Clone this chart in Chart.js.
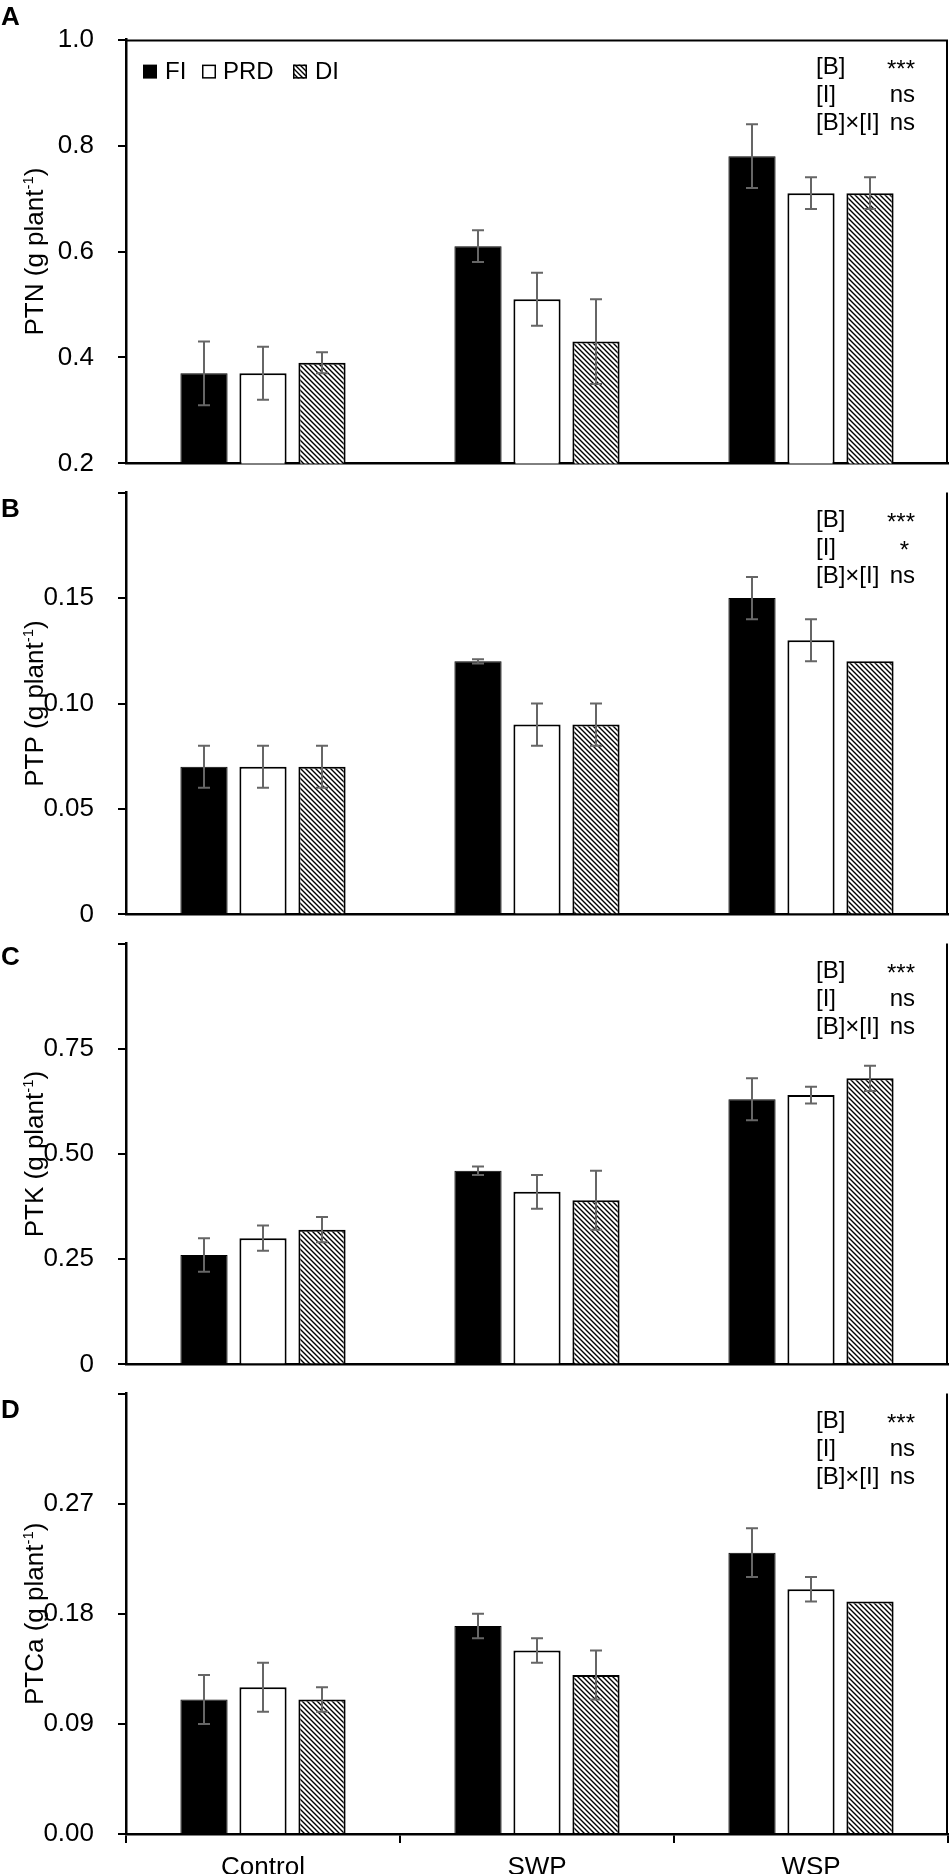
<!DOCTYPE html>
<html><head><meta charset="utf-8">
<script src="https://cdn.jsdelivr.net/npm/chart.js@4.4.1/dist/chart.umd.min.js"></script>
<style>
html,body{margin:0;padding:0;background:#fff;}
#wrap{position:relative;width:950px;height:1874px;overflow:hidden;background:#fff;}
#wrap canvas{position:absolute;left:0;display:block;}
</style></head><body>
<div id="wrap">
<canvas id="cA"></canvas><canvas id="cB"></canvas><canvas id="cC"></canvas><canvas id="cD"></canvas>
</div>
<script>
// ---------------- DATA ----------------
const categories = ['Control', 'SWP', 'WSP'];
const treatments = ['FI', 'PRD', 'DI'];
const statLabels = ['[B]', '[I]', '[B]×[I]'];

// A: PTN
const ptnFI  = [0.37, 0.61, 0.78];
const ptnPRD = [0.37, 0.51, 0.71];
const ptnDI  = [0.39, 0.43, 0.71];
const ptnErrFI  = [0.06, 0.03, 0.06];
const ptnErrPRD = [0.05, 0.05, 0.03];
const ptnErrDI  = [0.02, 0.08, 0.03];
const ptnTicks = [0.2, 0.4, 0.6, 0.8, 1.0];
const ptnTickLabels = ['0.2', '0.4', '0.6', '0.8', '1.0'];
const ptnStats = ['***', 'ns', 'ns'];

// B: PTP
const ptpFI  = [0.07, 0.12, 0.15];
const ptpPRD = [0.07, 0.09, 0.13];
const ptpDI  = [0.07, 0.09, 0.12];
const ptpErrFI  = [0.01, 0.001, 0.01];
const ptpErrPRD = [0.01, 0.01, 0.01];
const ptpErrDI  = [0.01, 0.01, 0];
const ptpTicks = [0, 0.05, 0.10, 0.15, 0.20];
const ptpTickLabels = ['0', '0.05', '0.10', '0.15', ''];
const ptpStats = ['***', '*', 'ns'];

// C: PTK
const ptkFI  = [0.26, 0.46, 0.63];
const ptkPRD = [0.30, 0.41, 0.64];
const ptkDI  = [0.32, 0.39, 0.68];
const ptkErrFI  = [0.04, 0.01, 0.05];
const ptkErrPRD = [0.03, 0.04, 0.02];
const ptkErrDI  = [0.03, 0.07, 0.03];
const ptkTicks = [0, 0.25, 0.50, 0.75, 1.00];
const ptkTickLabels = ['0', '0.25', '0.50', '0.75', ''];
const ptkStats = ['***', 'ns', 'ns'];

// D: PTCa
const ptcaFI  = [0.11, 0.17, 0.23];
const ptcaPRD = [0.12, 0.15, 0.20];
const ptcaDI  = [0.11, 0.13, 0.19];
const ptcaErrFI  = [0.02, 0.01, 0.02];
const ptcaErrPRD = [0.02, 0.01, 0.01];
const ptcaErrDI  = [0.01, 0.02, 0];
const ptcaTicks = [0, 0.09, 0.18, 0.27, 0.36];
const ptcaTickLabels = ['0.00', '0.09', '0.18', '0.27', ''];
const ptcaStats = ['***', 'ns', 'ns'];

// ---------------- STYLE / LAYOUT ----------------
const FONT = "'Liberation Sans', Arial, Helvetica, sans-serif";
Chart.defaults.font.family = FONT;
Chart.defaults.color = '#000';

function makeHatch() {
  const s = 5;
  const tile = document.createElement('canvas');
  tile.width = s; tile.height = s;
  const g = tile.getContext('2d');
  g.fillStyle = '#fff'; g.fillRect(0, 0, s, s);
  g.strokeStyle = '#000'; g.lineWidth = 1.4;
  g.beginPath();
  g.moveTo(0, 0); g.lineTo(s, s);
  g.moveTo(-1, s - 1); g.lineTo(1, s + 1);
  g.moveTo(s - 1, -1); g.lineTo(s + 1, 1);
  g.stroke();
  return document.createElement('canvas').getContext('2d').createPattern(tile, 'repeat');
}
const hatch = makeHatch();
const fills = ['#000000', '#ffffff', hatch];
const borders = [1, 2, 2];

const decor = {
  id: 'decor',
  afterDatasetsDraw(chart, args, o) {
    const ctx = chart.ctx, ys = chart.scales.y;
    ctx.save();
    ctx.strokeStyle = '#666666';
    ctx.lineWidth = 2;
    chart.data.datasets.forEach((ds, i) => {
      const meta = chart.getDatasetMeta(i);
      meta.data.forEach((bar, j) => {
        const e = o.err[i][j];
        if (!e) return;
        const v = ds.data[j];
        const y1 = ys.getPixelForValue(v + e), y2 = ys.getPixelForValue(v - e);
        const x = bar.x, c = 6;
        ctx.beginPath();
        ctx.moveTo(x, y1); ctx.lineTo(x, y2);
        ctx.moveTo(x - c, y1); ctx.lineTo(x + c, y1);
        ctx.moveTo(x - c, y2); ctx.lineTo(x + c, y2);
        ctx.stroke();
      });
    });
    ctx.restore();
  },
  afterDraw(chart, args, o) {
    const ctx = chart.ctx, ca = chart.chartArea;
    ctx.save();
    ctx.strokeStyle = '#000'; ctx.lineWidth = 2;
    ctx.beginPath();
    ctx.moveTo(ca.right - 1, ca.top); ctx.lineTo(ca.right - 1, ca.bottom);
    if (o.topLine) { ctx.moveTo(ca.left, ca.top + 1); ctx.lineTo(ca.right, ca.top + 1); }
    ctx.stroke();

    // y-axis title with superscript
    const cy = (ca.top + ca.bottom) / 2;
    ctx.save();
    ctx.translate(43, cy);
    ctx.rotate(-Math.PI / 2);
    ctx.fillStyle = '#000';
    ctx.textBaseline = 'alphabetic';
    ctx.textAlign = 'left';
    const mainF = '26px ' + FONT, supF = '15px ' + FONT;
    const t1 = o.title + ' (g plant', t2 = '-1', t3 = ')';
    ctx.font = mainF; const w1 = ctx.measureText(t1).width, w3 = ctx.measureText(t3).width;
    ctx.font = supF; const w2 = ctx.measureText(t2).width;
    let x0 = -(w1 + w2 + w3) / 2;
    ctx.font = mainF; ctx.fillText(t1, x0, 0);
    ctx.font = supF; ctx.fillText(t2, x0 + w1, -10);
    ctx.font = mainF; ctx.fillText(t3, x0 + w1 + w2, 0);
    ctx.restore();

    // panel letter
    ctx.fillStyle = '#000';
    ctx.font = 'bold 26px ' + FONT;
    ctx.textAlign = 'left'; ctx.textBaseline = 'middle';
    ctx.fillText(o.letter, 1, ca.top + o.letterDy);

    // statistics
    ctx.font = '24px ' + FONT;
    ctx.textBaseline = 'middle';
    o.stats.forEach((s, k) => {
      const yy = ca.top + 28 + 28 * k;
      ctx.textAlign = 'left';
      ctx.fillText(statLabels[k], 816, yy);
      ctx.textAlign = 'right';
      ctx.fillText(s, s === '*' ? 909 : 915, s.indexOf('*') >= 0 ? yy + 3 : yy);
    });

    // legend
    if (o.legend) {
      const xs = [[143, 165], [202, 223], [293, 315]];
      const ly = ca.top + 32;
      ctx.font = '24px ' + FONT;
      ctx.textAlign = 'left'; ctx.textBaseline = 'middle';
      chart.data.datasets.forEach((ds, i) => {
        const [sx, tx] = xs[i];
        ctx.fillStyle = ds.backgroundColor;
        ctx.fillRect(sx, ly - 7, 14, 14);
        if (i > 0) { ctx.strokeStyle = '#000'; ctx.lineWidth = 1.5; ctx.strokeRect(sx + 0.75, ly - 6.25, 12.5, 12.5); }
        ctx.fillStyle = '#000';
        ctx.fillText(ds.label, tx, ly + 1);
      });
    }
    ctx.restore();
  }
};

const panels = [
  { id: 'cA', letter: 'A', title: 'PTN', data: [ptnFI, ptnPRD, ptnDI], err: [ptnErrFI, ptnErrPRD, ptnErrDI],
    ticks: ptnTicks, tickLabels: ptnTickLabels, stats: ptnStats, top: 34, bottom: 483, canvasTop: 0, extra: 20,
    legend: true, xlabels: false, topLine: true, letterDy: -22 },
  { id: 'cB', letter: 'B', title: 'PTP', data: [ptpFI, ptpPRD, ptpDI], err: [ptpErrFI, ptpErrPRD, ptpErrDI],
    ticks: ptpTicks, tickLabels: ptpTickLabels, stats: ptpStats, top: 483, bottom: 934, canvasTop: 453, extra: 20,
    legend: false, xlabels: false, topLine: false, letterDy: 17 },
  { id: 'cC', letter: 'C', title: 'PTK', data: [ptkFI, ptkPRD, ptkDI], err: [ptkErrFI, ptkErrPRD, ptkErrDI],
    ticks: ptkTicks, tickLabels: ptkTickLabels, stats: ptkStats, top: 934, bottom: 1384, canvasTop: 904, extra: 20,
    legend: false, xlabels: false, topLine: false, letterDy: 14 },
  { id: 'cD', letter: 'D', title: 'PTCa', data: [ptcaFI, ptcaPRD, ptcaDI], err: [ptcaErrFI, ptcaErrPRD, ptcaErrDI],
    ticks: ptcaTicks, tickLabels: ptcaTickLabels, stats: ptcaStats, top: 1384, bottom: 1834, canvasTop: 1354, extra: 40,
    legend: false, xlabels: true, topLine: false, letterDy: 17 }
];

panels.forEach(p => {
  const cv = document.getElementById(p.id);
  const h = p.bottom + p.extra - p.canvasTop;
  cv.width = 950; cv.height = h;
  cv.style.width = '950px'; cv.style.height = h + 'px'; cv.style.top = p.canvasTop + 'px';
  const padTop = p.top - p.canvasTop;
  new Chart(cv, {
    type: 'bar',
    data: {
      labels: categories,
      datasets: treatments.map((t, i) => ({
        label: t,
        data: p.data[i],
        backgroundColor: fills[i],
        borderColor: '#000',
        borderWidth: borders[i],
        borderSkipped: 'bottom',
        categoryPercentage: 0.646,
        barPercentage: 0.8
      }))
    },
    options: {
      responsive: false,
      animation: false,
      devicePixelRatio: 1,
      layout: { padding: { top: padTop, left: 0, right: 2, bottom: 0 } },
      plugins: {
        legend: { display: false },
        tooltip: { enabled: false },
        decor: { err: p.err, title: p.title, letter: p.letter, stats: p.stats, legend: p.legend,
                 topLine: p.topLine, letterDy: p.letterDy }
      },
      scales: {
        x: {
          z: 1,
          offset: true,
          border: { display: true, color: '#000', width: 2.5 },
          grid: { display: p.xlabels, drawOnChartArea: false, drawTicks: true, tickLength: 9,
                  color: '#000', lineWidth: 2, offset: true },
          ticks: { display: p.xlabels, font: { size: 26 }, color: '#000', padding: 9,
                   maxRotation: 0, autoSkip: false },
          afterFit: s => { s.height = p.extra; }
        },
        y: {
          z: 1,
          min: p.ticks[0],
          max: p.ticks[p.ticks.length - 1],
          border: { display: true, color: '#000', width: 2.5 },
          grid: { display: true, drawOnChartArea: false, drawTicks: true, tickLength: 8,
                  color: '#000', lineWidth: 2 },
          ticks: { font: { size: 26 }, color: '#000', padding: 24,
                   callback: (v, i) => p.tickLabels[i] },
          afterBuildTicks: s => { s.ticks = p.ticks.map(v => ({ value: v })); },
          afterFit: s => { s.width = 126; }
        }
      }
    },
    plugins: [decor]
  });
});
</script>
</body></html>
